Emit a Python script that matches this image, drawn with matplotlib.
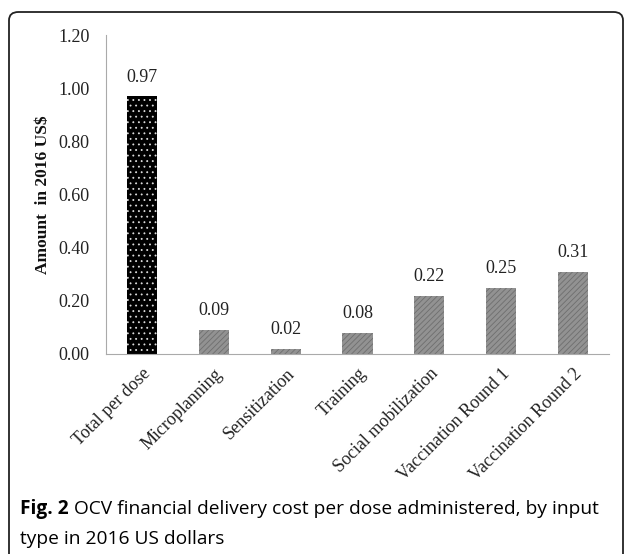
import matplotlib.pyplot as plt
from matplotlib.patches import FancyBboxPatch

categories = ["Total per dose", "Microplanning", "Sensitization", "Training",
              "Social mobilization", "Vaccination Round 1", "Vaccination Round 2"]
values = [0.97, 0.09, 0.02, 0.08, 0.22, 0.25, 0.31]
yticks = [0.0, 0.2, 0.4, 0.6, 0.8, 1.0, 1.2]

plt.rcParams['hatch.linewidth'] = 0.6

fig = plt.figure(figsize=(6.28, 5.54), dpi=100)

# rounded outer frame (bottom edge runs off the picture)
frame = FancyBboxPatch((9 / 628, -0.05), 614 / 628, 1 - 12 / 554 + 0.05,
                       boxstyle="round,pad=0,rounding_size=0.015",
                       transform=fig.transFigure, fill=False,
                       edgecolor="#222222", linewidth=1.3)
fig.patches.append(frame)

ax = fig.add_axes([106 / 628, 1 - 354 / 554, 503 / 628, 319 / 554])

serif = "Liberation Serif"
for i, v in enumerate(values):
    if i == 0:
        ax.bar(i, v, width=0.42, color="black", hatch="...", edgecolor="#dddddd", linewidth=0)
    else:
        ax.bar(i, v, width=0.42, color="#929292", hatch="//////", edgecolor="#6e6e6e", linewidth=0)
    ax.text(i, v + 0.04, f"{v:.2f}", ha="center", va="bottom",
            fontsize=13, family=serif, color="#222222")

ax.set_xlim(-0.5, len(categories) - 0.5)
ax.set_ylim(0, 1.2)
ax.set_yticks(yticks)
ax.set_yticklabels([f"{t:.2f}" for t in yticks], family=serif, fontsize=13, color="#222222")
ax.set_xticks(range(len(categories)))
ax.set_xticklabels(categories, rotation=45, ha="right", rotation_mode="anchor",
                   family=serif, fontsize=13, color="#222222")
ax.tick_params(axis="y", length=0, pad=12)
ax.tick_params(axis="x", length=0, pad=8)

for s in ["top", "right"]:
    ax.spines[s].set_visible(False)
ax.spines["left"].set_color("#aaaaaa")
ax.spines["bottom"].set_color("#aaaaaa")

ax.set_ylabel("Amount  in 2016 US$", family=serif, fontweight="bold",
              fontsize=12.5, labelpad=5, color="#111111")

t1 = fig.text(20 / 628, 1 - 509 / 554, "Fig. 2", fontsize=13.8, va="center",
              family="Open Sans", fontweight="bold")
ax.annotate("OCV financial delivery cost per dose administered, by input",
            xy=(1, 0.5), xycoords=t1, xytext=(4, 0), textcoords="offset points",
            fontsize=13.8, va="center", family="Open Sans")
fig.text(20 / 628, 1 - 539 / 554, "type in 2016 US dollars",
         fontsize=13.8, va="center", family="Open Sans")

fig.savefig("out.png", dpi=100)
